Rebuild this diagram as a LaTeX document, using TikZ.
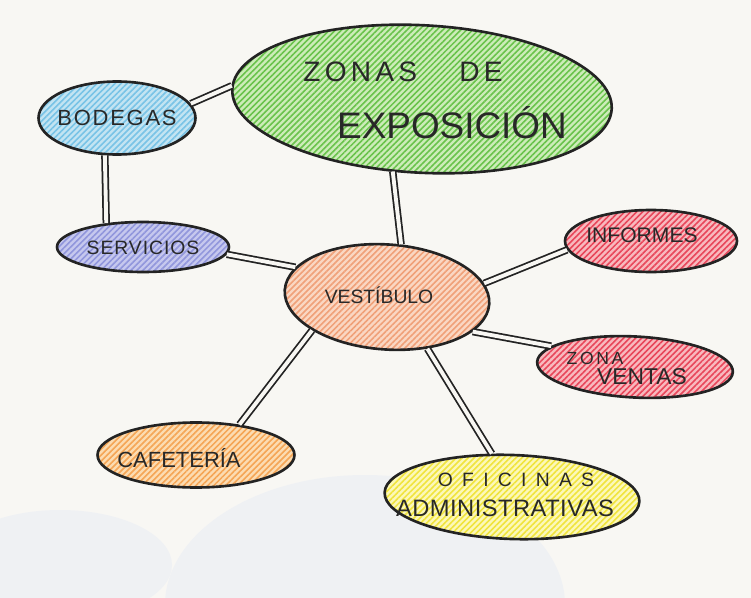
\documentclass[tikz,border=0pt]{standalone}
\usepackage{fontspec}
\setmainfont{Liberation Sans}
\usetikzlibrary{shapes.geometric,patterns.meta}
\definecolor{paper}{RGB}{248,247,243}
\definecolor{ink}{RGB}{35,35,35}
\definecolor{txt}{RGB}{40,40,40}
\definecolor{grF}{RGB}{205,236,185}\definecolor{grL}{RGB}{105,195,75}
\definecolor{blF}{RGB}{195,228,242}\definecolor{blL}{RGB}{120,195,230}
\definecolor{svF}{RGB}{198,200,238}\definecolor{svL}{RGB}{145,150,220}
\definecolor{veF}{RGB}{250,215,195}\definecolor{veL}{RGB}{240,160,120}
\definecolor{rdF}{RGB}{248,185,190}\definecolor{rdL}{RGB}{232,70,90}
\definecolor{caF}{RGB}{252,220,178}\definecolor{caL}{RGB}{245,165,85}
\definecolor{yeF}{RGB}{252,248,185}\definecolor{yeL}{RGB}{240,228,60}
\definecolor{ghost}{RGB}{239,241,243}
\newcommand\hw[2]{\fontsize{#1}{#1}\selectfont\addfontfeature{LetterSpace=#2}}
\begin{document}
\begin{tikzpicture}[x=0.02cm,y=-0.02cm,
  bubble/.style={ellipse, draw=ink, line width=1.5pt, inner sep=0pt},
  hatch/.style 2 args={preaction={fill=#1}, pattern={Lines[angle=45,distance=2.4pt,line width=0.9pt]}, pattern color=#2},
  link/.style={draw=ink, line width=1pt, double=paper, double distance=2.2pt},
  lbl/.style={text=txt, inner sep=0pt}]
\fill[paper] (0,0) rectangle (751,598);
\useasboundingbox (0,0) rectangle (751,598);
% faint background shapes
\fill[ghost] (60,565) ellipse [x radius=112, y radius=55];
\fill[ghost] (365,605) ellipse [x radius=200, y radius=130];

% bubbles
\node[bubble, hatch={grF}{grL}, minimum width=7.6cm, minimum height=2.95cm, rotate=-3] (zonas) at (422,99) {};
\node[bubble, hatch={blF}{blL}, minimum width=3.14cm, minimum height=1.46cm] (bodegas) at (117,118) {};
\node[bubble, hatch={svF}{svL}, minimum width=3.44cm, minimum height=1.0cm] (servicios) at (143,247) {};
\node[bubble, hatch={veF}{veL}, minimum width=4.1cm, minimum height=2.1cm, rotate=-4] (vest) at (387,297) {};
\node[bubble, hatch={rdF}{rdL}, minimum width=3.44cm, minimum height=1.24cm] (informes) at (651,241) {};
\node[bubble, hatch={rdF}{rdL}, minimum width=3.92cm, minimum height=1.22cm, rotate=-3] (ventas) at (635,367) {};
\node[bubble, hatch={caF}{caL}, minimum width=3.94cm, minimum height=1.3cm] (cafe) at (196,455) {};
\node[bubble, hatch={yeF}{yeL}, minimum width=5.1cm, minimum height=1.68cm, rotate=-2] (ofic) at (512,497) {};

% connectors
\draw[link] (bodegas.11) -- (zonas.179);
\draw[link] (bodegas.252) -- (servicios.147);
\draw[link] (zonas.251) -- (vest.79);
\draw[link] (servicios.355) -- (vest.166);
\draw[link] (vest.12) -- (informes.186);
\draw[link] (vest.342) -- (ventas.169);
\draw[link] (vest.208) -- (cafe.35);
\draw[link] (vest.312) -- (ofic.117);

% labels
\node[lbl] (tz1) at (403,72) {\hw{16}{15}ZONAS\hspace{1.5em}DE};
\node[lbl] (tz2) at (452,123) {\hw{21}{0}EXPOSICIÓN};
\node[lbl] (tbo) at (117,118) {\hw{12.5}{8}BODEGAS};
\node[lbl] (tse) at (143,248) {\hw{11}{5}SERVICIOS};
\node[lbl] (tve) at (379,295) {\hw{11}{0}VESTÍBULO};
\node[lbl] (tin) at (642,235) {\hw{12}{0}INFORMES};
\node[lbl] (tzo) at (595,358) {\hw{10}{15}ZONA};
\node[lbl] (tvn) at (642,377) {\hw{13}{0}VENTAS};
\node[lbl] (tca) at (179,458) {\hw{12.5}{0}CAFETERÍA};
\node[lbl] (tof) at (516,480) {\hw{11}{48}OFICINAS};
\node[lbl] (tad) at (505,508) {\hw{13.5}{2}ADMINISTRATIVAS};
\end{tikzpicture}
\end{document}
